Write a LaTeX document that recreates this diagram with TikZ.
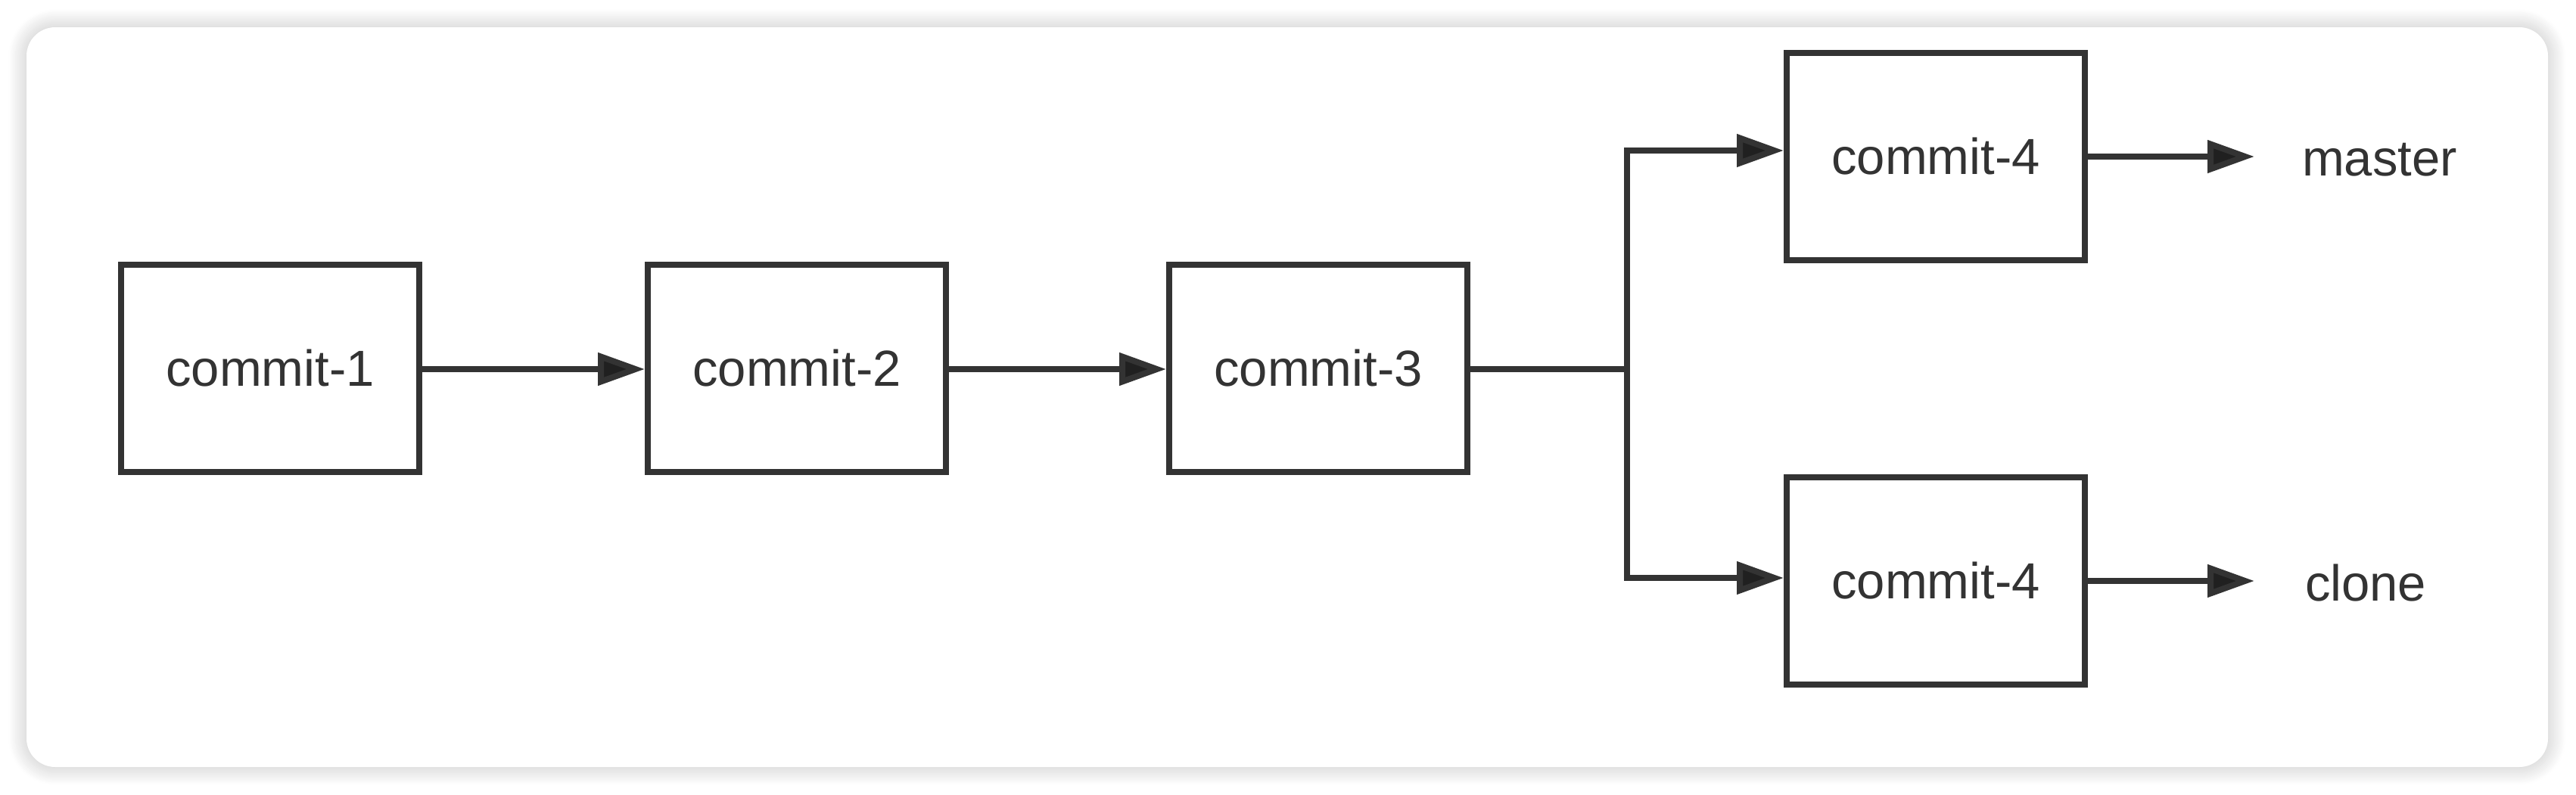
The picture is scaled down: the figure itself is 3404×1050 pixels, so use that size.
\documentclass[tikz,border=0pt]{standalone}
\usepackage{fontspec}
\setmainfont{Liberation Sans}
\usepackage{tikz}
\usetikzlibrary{arrows.meta,shadows.blur}
\definecolor{ink}{HTML}{333333}

\begin{document}
\begin{tikzpicture}[x=1pt,y=-1pt,line width=8pt,draw=ink,-{Triangle[length=62pt,width=42pt]}]
			\tikzstyle{commit}=[rectangle,draw=ink,line width=8pt,fill=white,minimum width=394pt,minimum height=274pt,inner sep=0pt,text=ink,font=\fontsize{67}{80}\selectfont]
			\tikzstyle{branch}=[inner sep=0pt,anchor=west,text=ink,font=\fontsize{67}{80}\selectfont]
			\useasboundingbox (0,0) rectangle (3404,1050);
			% card
			\fill[white,rounded corners=38pt,blur shadow={shadow xshift=0pt,shadow yshift=0pt,shadow blur radius=24pt,shadow blur steps=14,shadow opacity=25}] (35,36) rectangle (3367,1014);
			\node[commit] (C_1) at (357,487)   {commit-1};
			\node[commit] (C_2) at (1053,487)  {commit-2};
			\node[commit] (C_3) at (1742,487)  {commit-3};
			\node[commit] (C_4m) at (2558,207) {commit-4};
			\node[commit] (C_4c) at (2558,768) {commit-4};
			\node[branch] (B_m) at (3038,211)  {master};
			\node[branch] (B_c) at (3042,771)  {clone};
			\coordinate (F) at (2150,488);
			\coordinate (F_m) at (2150,199);
			\coordinate (F_c) at (2150,764);
			\draw (C_1.east |- F) -- (C_2.west |- F);
			\draw (C_2.east |- F) -- (C_3.west |- F);
			\draw[-] (C_3.east |- F) -- (F);
			\draw (F) -- (F_m) -- (F_m -| C_4m.west);
			\draw (F) -- (F_c) -- (F_c -| C_4c.west);
			\draw (C_4m.east) -- ([xshift=-59pt]B_m.west |- C_4m);
			\draw (C_4c.east) -- ([xshift=-63pt]B_c.west |- C_4c);
			\end{tikzpicture}
\end{document}
